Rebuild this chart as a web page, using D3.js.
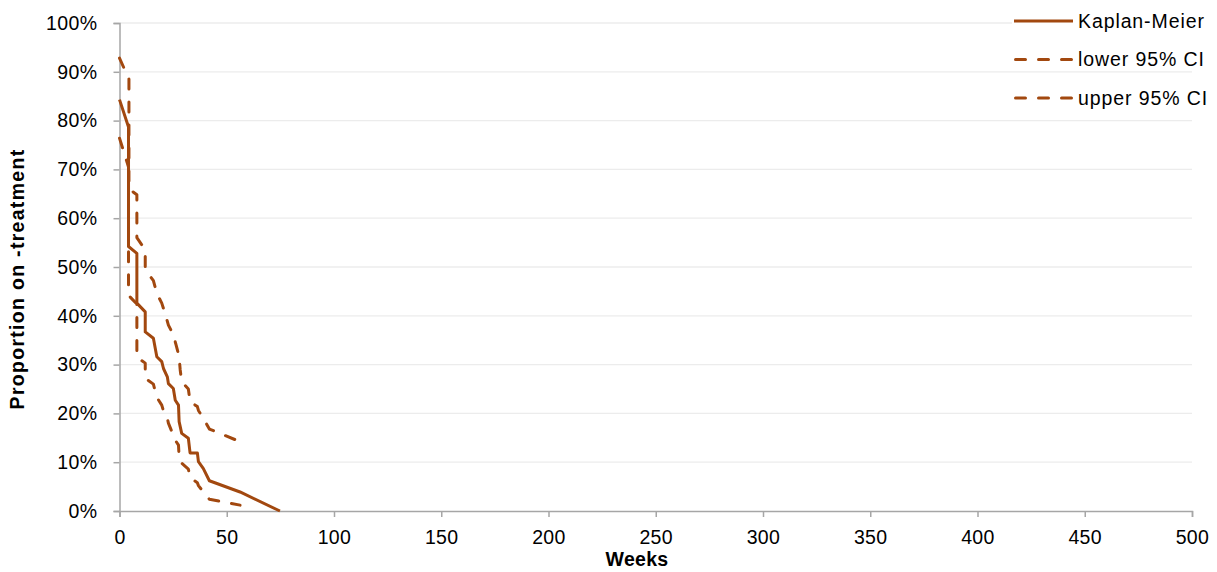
<!DOCTYPE html>
<html>
<head>
<meta charset="utf-8">
<script src="https://cdn.jsdelivr.net/npm/d3@7"></script>
<style>
  html, body { margin: 0; padding: 0; background: #fff; }
  svg text { font-family: "Liberation Sans", Arial, sans-serif; fill: #000; }
</style>
</head>
<body>
<svg id="chart" width="1217" height="572"></svg>
<script>
// Kaplan-Meier estimate of time on treatment, with 95% confidence limits
const kmWeeks   = [0, 4.2, 4.2, 8.1, 8.1, 12, 12, 15.8, 17.4, 19.7, 20.5, 22.3, 22.8, 25.1, 26, 27.5, 27.8, 29, 32.1, 32.9, 36.3, 36.8, 39.1, 41.9, 56.2, 74.8];
const kmValues  = [0.843, 0.787, 0.542, 0.528, 0.426, 0.408, 0.367, 0.354, 0.316, 0.306, 0.292, 0.275, 0.261, 0.251, 0.227, 0.217, 0.183, 0.159, 0.149, 0.119, 0.119, 0.101, 0.087, 0.062, 0.039, 0.0];

const lowerWeeks  = [0, 4.2, 4.2, 8.1, 8.1, 12, 12, 15.8, 17.4, 19.7, 20.5, 22.3, 22.8, 25.1, 26, 27.5, 27.8, 29, 32.1, 32.9, 36.3, 36.8, 39.1, 41.9, 56.2];
const lowerValues = [0.764, 0.705, 0.442, 0.424, 0.315, 0.303, 0.272, 0.260, 0.233, 0.217, 0.205, 0.190, 0.180, 0.155, 0.145, 0.135, 0.110, 0.098, 0.086, 0.068, 0.058, 0.052, 0.039, 0.024, 0.012];

const upperWeeks  = [0, 4.4, 4.4, 8.1, 8.1, 12, 12, 15.8, 17.4, 19.7, 21.3, 22.8, 25.1, 26.4, 27.8, 28.3, 29, 32.1, 32.9, 36.3, 36.8, 39.1, 41.9, 56.2];
const upperValues = [0.928, 0.885, 0.660, 0.648, 0.560, 0.535, 0.495, 0.472, 0.446, 0.426, 0.404, 0.381, 0.361, 0.340, 0.316, 0.289, 0.265, 0.250, 0.224, 0.214, 0.206, 0.190, 0.168, 0.142];

const xTicks = [0, 50, 100, 150, 200, 250, 300, 350, 400, 450, 500];
const yTicks = [0, 0.1, 0.2, 0.3, 0.4, 0.5, 0.6, 0.7, 0.8, 0.9, 1.0];

const seriesNames = ["Kaplan-Meier", "lower 95% CI", "upper 95% CI"];
const lineColor = "#A2480F";

const svg = d3.select("#chart");
const margin = { left: 119.5, right: 25, top: 23, bottom: 61 };
const W = 1217, H = 572;

const x = d3.scaleLinear().domain([0, 500]).range([margin.left, W - margin.right]);
const y = d3.scaleLinear().domain([0, 1]).range([H - margin.bottom, margin.top]);

// horizontal gridlines
svg.append("g")
  .selectAll("line")
  .data(yTicks.slice(1))
  .join("line")
  .attr("x1", x(0)).attr("x2", x(500))
  .attr("y1", d => y(d)).attr("y2", d => y(d))
  .attr("stroke", "#ececec").attr("stroke-width", 1.3);

// axes
const fmtPct = d3.format(".0%");
const yAxis = svg.append("g")
  .attr("transform", `translate(${x(0)},0)`)
  .call(d3.axisLeft(y).tickValues(yTicks).tickFormat(fmtPct).tickSize(6).tickPadding(16));
const xAxis = svg.append("g")
  .attr("transform", `translate(0,${y(0)})`)
  .call(d3.axisBottom(x).tickValues(xTicks).tickSize(6).tickPadding(13));

[xAxis, yAxis].forEach(g => {
  g.select(".domain").attr("stroke", "#a6a6a6").attr("stroke-width", 1.5);
  g.selectAll(".tick line").attr("stroke", "#a6a6a6").attr("stroke-width", 1.5);
  g.selectAll(".tick text")
    .attr("fill", "#000")
    .style("font-family", '"Liberation Sans", Arial, sans-serif')
    .style("font-size", "19.5px")
    .style("letter-spacing", "0.4px");
});

// axis titles
svg.append("text")
  .attr("x", 637).attr("y", 566)
  .attr("text-anchor", "middle")
  .style("font-size", "19.5px").style("font-weight", "bold").style("letter-spacing", "0.3px")
  .text("Weeks");

svg.append("text")
  .attr("transform", "translate(24,279) rotate(-90)")
  .attr("text-anchor", "middle")
  .style("font-size", "19.5px").style("font-weight", "bold").style("letter-spacing", "1.3px")
  .text("Proportion on -treatment");

// series
const series = [
  { name: seriesNames[0], weeks: kmWeeks, values: kmValues, dash: null },
  { name: seriesNames[1], weeks: lowerWeeks, values: lowerValues, dash: "10,13" },
  { name: seriesNames[2], weeks: upperWeeks, values: upperValues, dash: "10,13" }
];

const line = d3.line()
  .x(d => x(d[0]))
  .y(d => y(d[1]));

svg.append("g")
  .selectAll("path")
  .data(series)
  .join("path")
  .attr("d", s => line(s.weeks.map((w, i) => [w, s.values[i]])))
  .attr("fill", "none")
  .attr("stroke", lineColor)
  .attr("stroke-width", 3)
  .attr("stroke-linejoin", "round")
  .attr("stroke-linecap", s => s.dash ? "round" : "butt")
  .attr("stroke-dasharray", s => s.dash);

// legend
const legend = svg.append("g").attr("transform", "translate(1014,21)");
const rows = legend.selectAll("g")
  .data(series)
  .join("g")
  .attr("transform", (d, i) => `translate(0,${i * 38.5})`);

rows.append("rect")
  .attr("x", -2).attr("y", -11).attr("width", 203).attr("height", 22)
  .attr("fill", "#fff");

rows.append("line")
  .attr("x1", s => s.dash ? 1.5 : 0).attr("x2", s => s.dash ? 58 : 59)
  .attr("y1", 0).attr("y2", 0)
  .attr("stroke", lineColor).attr("stroke-width", 3)
  .attr("stroke-linecap", s => s.dash ? "round" : "butt")
  .attr("stroke-dasharray", s => s.dash);

rows.append("text")
  .attr("x", 64).attr("y", 0).attr("dy", "0.35em")
  .style("font-size", "19.5px").style("letter-spacing", "0.9px")
  .text(s => s.name);
</script>
</body>
</html>
